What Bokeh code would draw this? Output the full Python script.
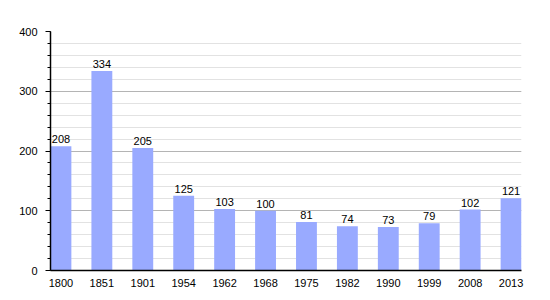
from bokeh.plotting import figure
from bokeh.models import ColumnDataSource, FixedTicker, SingleIntervalTicker, Range1d
from bokeh.core.properties import value
from bokeh.embed import file_html
from bokeh.resources import INLINE

years = ["1800", "1851", "1901", "1954", "1962", "1968", "1975", "1982", "1990", "1999", "2008", "2013"]
population = [208, 334, 205, 125, 103, 100, 81, 74, 73, 79, 102, 121]

BAR_W = 0.51
idx = list(range(len(years)))
src = ColumnDataSource(dict(
    left=[i for i in idx],
    right=[i + BAR_W for i in idx],
    center=[i + BAR_W / 2 for i in idx],
    top=population,
    label=[str(v) for v in population],
))

p = figure(width=550, height=300, output_backend="svg", toolbar_location=None,
           x_range=Range1d(0, len(years) - 1 + BAR_W), y_range=Range1d(0, 400),
           min_border_left=50, min_border_right=29, min_border_top=31, min_border_bottom=30)
p.outline_line_color = None
p.background_fill_color = "white"

p.quad(left="left", right="right", bottom=0, top="top", source=src,
       fill_color="#99AAFF", line_color=None)
p.text(x="center", y="top", text="label", source=src, y_offset=-3,
       text_align="center", text_baseline="bottom", text_font=value("Liberation Sans"),
       text_font_size="11px", text_color="black")

p.xgrid.grid_line_color = None
p.yaxis.ticker = SingleIntervalTicker(interval=100, num_minor_ticks=5)
p.ygrid.grid_line_color = "#b4b4b4"
p.ygrid.minor_grid_line_color = "#e2e2e2"

p.xaxis.ticker = FixedTicker(ticks=[i + BAR_W / 2 for i in idx])
p.xaxis.major_label_overrides = {i + BAR_W / 2: y for i, y in zip(idx, years)}
p.xaxis.major_tick_line_color = None
p.xaxis.minor_tick_line_color = None
p.xaxis.axis_line_color = "black"
p.xaxis.axis_line_width = 1.5
p.xaxis.major_label_standoff = 2

p.yaxis.axis_line_color = "black"
p.yaxis.axis_line_width = 1.5
p.yaxis.major_tick_line_color = "black"
p.yaxis.minor_tick_line_color = "black"
p.yaxis.major_tick_out = 5
p.yaxis.major_tick_in = 0
p.yaxis.minor_tick_out = 3
p.yaxis.minor_tick_in = 0
p.yaxis.major_label_standoff = 8

for ax in (p.xaxis, p.yaxis):
    ax.major_label_text_font = "Liberation Sans"
    ax.major_label_text_font_size = "11px"
    ax.major_label_text_color = "black"

open("out.html", "w").write(file_html(p, INLINE))
